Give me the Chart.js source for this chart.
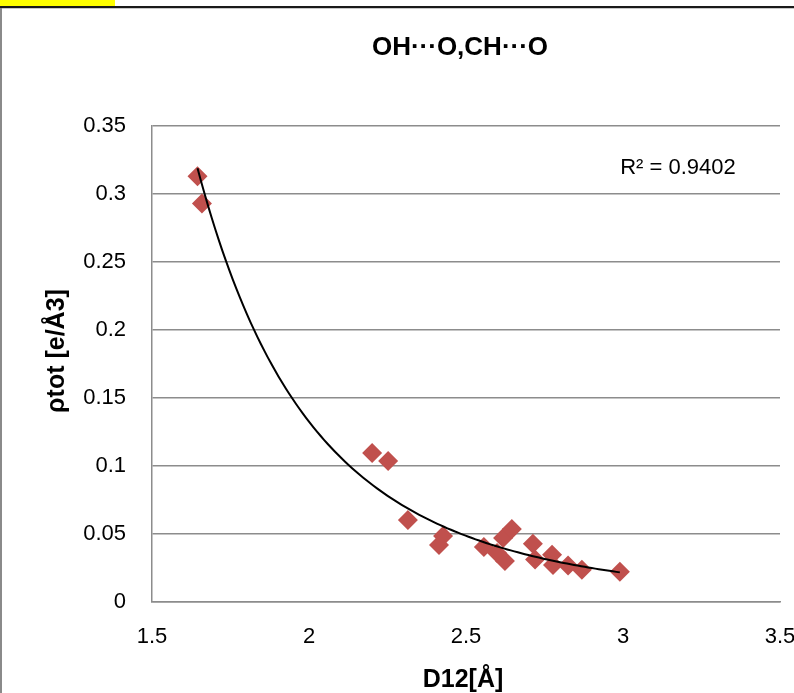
<!DOCTYPE html>
<html>
<head>
<meta charset="utf-8">
<script src="https://cdn.jsdelivr.net/npm/chart.js@4.4.1/dist/chart.umd.min.js"></script>
<style>
  html, body { margin: 0; padding: 0; background: #fff; overflow: hidden; width: 794px; height: 693px; }
  #wrap { position: absolute; left: 0; top: 0; width: 830px; height: 693px; }
  #yellow { position: absolute; left: 0; top: 0; width: 115px; height: 6px; background: #ffff00; }
  #topline { position: absolute; left: 0; top: 6px; width: 794px; height: 2px; background: #1a1a1a; }
  #topline2 { position: absolute; left: 0; top: 8px; width: 794px; height: 1px; background: #c8c8c8; }
  #leftline { position: absolute; left: 0; top: 8px; width: 2px; height: 685px; background: #8a8a8a; }
</style>
</head>
<body>
<div id="wrap"><canvas id="c" width="830" height="693"></canvas></div>
<div id="yellow"></div>
<div id="topline"></div>
<div id="topline2"></div>
<div id="leftline"></div>
<script>
// ---- data ----
const chartTitle = "OH···O,CH···O";
const xAxisTitle = "D12[Å]";
const yAxisTitle = "ρtot [e/Å3]";
const r2Label = "R² = 0.9402";
const r2LabelAt = [3.175, 0.319];

const distances = [1.645, 1.659, 2.201, 2.252, 2.315, 2.427, 2.414, 2.557, 2.599, 2.618, 2.624, 2.646,
                   2.713, 2.720, 2.774, 2.777, 2.825, 2.869, 2.990];
const densities = [0.313, 0.293, 0.1095, 0.1036, 0.0603, 0.0485, 0.0419, 0.0404, 0.0360, 0.0470, 0.0301, 0.0536,
                   0.0428, 0.0312, 0.0348, 0.0272, 0.0268, 0.0237, 0.0222];

const xTicks = [1.5, 2, 2.5, 3, 3.5];
const yTicks = [0, 0.05, 0.1, 0.15, 0.2, 0.25, 0.3, 0.35];

// ---- power trendline (least squares in log-log space, as Excel does) ----
function powerFit(xs, ys) {
  const n = xs.length;
  let sx = 0, sy = 0, sxx = 0, sxy = 0;
  for (let i = 0; i < n; i++) {
    const lx = Math.log(xs[i]), ly = Math.log(ys[i]);
    sx += lx; sy += ly; sxx += lx * lx; sxy += lx * ly;
  }
  const b = (n * sxy - sx * sy) / (n * sxx - sx * sx);
  const a = Math.exp((sy - b * sx) / n);
  return { a, b };
}
const fit = powerFit(distances, densities);
const xMin = Math.min(...distances), xMax = Math.max(...distances);
const trend = [];
for (let i = 0; i <= 120; i++) {
  const x = xMin + (xMax - xMin) * i / 120;
  trend.push({ x, y: fit.a * Math.pow(x, fit.b) });
}
const points = distances.map((x, i) => ({ x, y: densities[i] }));

const FONT = "'Liberation Sans', Arial, sans-serif";
const GRID = '#8c8c8c';
const fmt = v => String(Math.round(v * 1000) / 1000);

const textPlugin = {
  id: 'texts',
  afterDraw(chart) {
    const ctx = chart.ctx;
    const a = chart.chartArea;
    const xs = chart.scales.x, ys = chart.scales.y;
    const cx = (a.left + a.right) / 2;
    ctx.save();
    ctx.fillStyle = '#000';
    ctx.textAlign = 'center';
    ctx.textBaseline = 'middle';
    // chart title
    ctx.font = "bold 26px " + FONT;
    ctx.fillText(chartTitle, cx - 6, 48);
    // x axis title
    ctx.font = "bold 25px " + FONT;
    ctx.fillText(xAxisTitle, cx - 3, 680);
    // y axis title
    ctx.save();
    ctx.translate(57, (a.top + a.bottom) / 2 - 13);
    ctx.rotate(-Math.PI / 2);
    ctx.fillText(yAxisTitle, 0, 0);
    ctx.restore();
    // R² label
    ctx.font = "22px " + FONT;
    ctx.fillText(r2Label, xs.getPixelForValue(r2LabelAt[0]), ys.getPixelForValue(r2LabelAt[1]));
    ctx.restore();
  }
};

new Chart(document.getElementById('c'), {
  type: 'scatter',
  data: {
    datasets: [
      {
        label: 'Power trendline',
        data: trend,
        showLine: true,
        borderColor: '#000',
        borderWidth: 2,
        pointRadius: 0,
        tension: 0,
        fill: false,
        order: 0
      },
      {
        label: 'ρtot',
        data: points,
        pointStyle: 'rectRot',
        pointRadius: 10,
        pointBackgroundColor: '#C0504D',
        pointBorderColor: '#C0504D',
        pointBorderWidth: 0,
        order: 1
      }
    ]
  },
  options: {
    responsive: false,
    animation: false,
    events: [],
    layout: { padding: { left: 0, right: 50, top: 126, bottom: 0 } },
    plugins: { legend: { display: false }, tooltip: { enabled: false }, title: { display: false } },
    scales: {
      x: {
        type: 'linear',
        min: xTicks[0], max: xTicks[xTicks.length - 1],
        afterBuildTicks(s) { s.ticks = xTicks.map(v => ({ value: v })); },
        afterFit(s) { s.height = 91; },
        grid: { display: false, drawTicks: false },
        border: { display: true, color: GRID, width: 1.5 },
        ticks: { color: '#000', font: { family: FONT, size: 22 }, padding: 22, maxRotation: 0, callback: fmt }
      },
      y: {
        type: 'linear',
        min: yTicks[0], max: yTicks[yTicks.length - 1],
        afterBuildTicks(s) { s.ticks = yTicks.map(v => ({ value: v })); },
        afterFit(s) { s.width = 152; },
        grid: { display: true, color: GRID, lineWidth: 1.5, drawTicks: false },
        border: { display: true, color: GRID, width: 1.5 },
        ticks: { color: '#000', font: { family: FONT, size: 22 }, padding: 26, callback: fmt }
      }
    }
  },
  plugins: [textPlugin]
});
</script>
</body>
</html>
